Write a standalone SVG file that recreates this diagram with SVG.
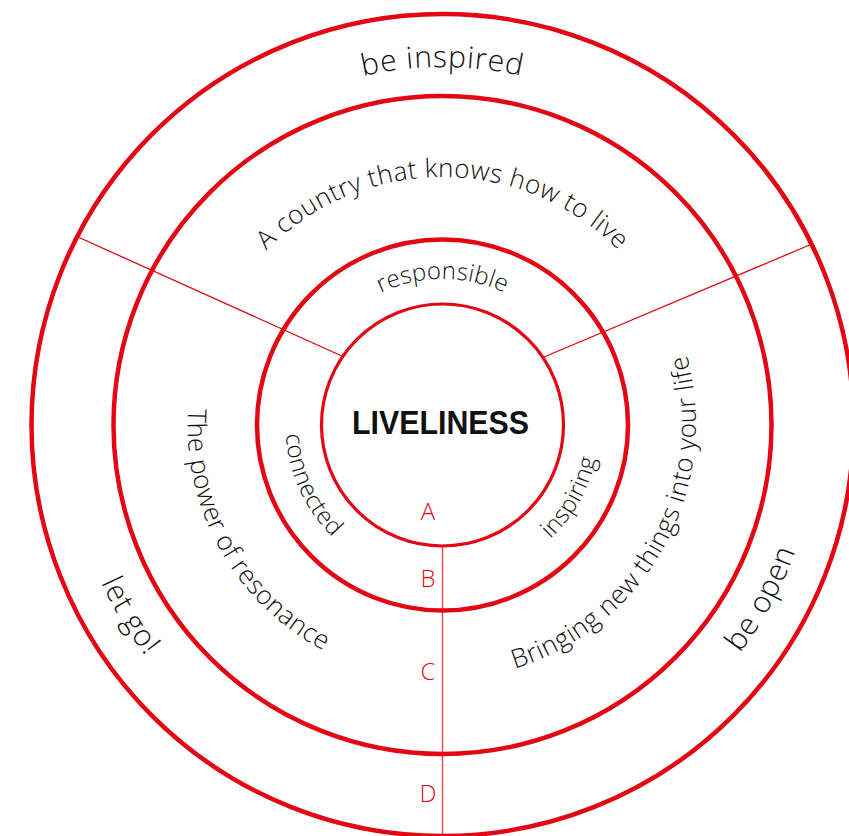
<svg xmlns="http://www.w3.org/2000/svg" xmlns:xlink="http://www.w3.org/1999/xlink" width="849" height="836" viewBox="0 0 849 836">
<style>
.ring{fill:none;stroke:#e30613;stroke-width:4.5}
.ring-in{fill:none;stroke:#e30613;stroke-width:3.2}
.div{fill:none;stroke:#e30613;stroke-width:1.3}
.axis{fill:none;stroke:#e30613;stroke-width:1.4;stroke-opacity:0.75}
.t{font-family:"Open Sans","Liberation Sans",sans-serif;font-weight:300;fill:#111;text-anchor:middle}
.t1{font-size:30px;letter-spacing:0.8px}
.t2{font-size:26px;letter-spacing:0.45px}
.t3{font-size:24px;letter-spacing:0.2px}
.lbl{font-family:"Open Sans","Liberation Sans",Arial,sans-serif;font-weight:300;font-size:24px;fill:#e30613;text-anchor:middle}
.core{font-family:"Liberation Sans",Arial,sans-serif;font-size:33px;font-weight:bold;fill:#111;text-anchor:middle}
</style>
<defs>
<path id="pInspired" d="M 84.5 425 A 358 358 0 0 1 800.5 425"/>
<path id="pCountry" d="M 194.5 425 A 248 248 0 0 1 690.5 425"/>
<path id="pResp" d="M 296.5 425 A 146 146 0 0 1 588.5 425"/>
<path id="pConn" d="M 377.4 282.1 A 157 157 0 0 0 507.6 567.9"/>
<path id="pInsp" d="M 365.2 561.7 A 157 157 0 0 0 519.8 288.3"/>
<path id="pPower" d="M 317.7 202.6 A 255 255 0 0 0 567.3 647.4"/>
<path id="pBring" d="M 319.1 650.4 A 257 257 0 0 0 565.9 199.6"/>
<path id="pLetgo" d="M 246.1 103.2 A 377 377 0 0 0 638.9 746.8"/>
<path id="pOpen" d="M 262.6 756.3 A 377 377 0 0 0 622.4 93.7"/>
</defs>
<rect width="849" height="836" fill="#ffffff"/>
<g id="rings">
<circle id="ring-D" class="ring" cx="442.5" cy="425" r="411"/>
<circle id="ring-C" class="ring" cx="442.5" cy="425" r="329"/>
<circle id="ring-B" class="ring" cx="442.5" cy="425" r="185.5"/>
<circle id="ring-A" class="ring-in" cx="442.5" cy="425" r="121"/>
</g>
<g id="connectors">
<line class="div" x1="344" y1="357" x2="78" y2="237"/>
<line class="div" x1="544" y1="357" x2="812" y2="244"/>
<line class="axis" x1="442.5" y1="546" x2="442.5" y2="836"/>
</g>
<g id="core">
<text class="core" x="440.5" y="434" textLength="177" lengthAdjust="spacingAndGlyphs">LIVELINESS</text>
</g>
<g id="inner-ring">
<text class="t t3"><textPath xlink:href="#pResp" href="#pResp" startOffset="50%">responsible</textPath></text>
<text class="t t3"><textPath xlink:href="#pConn" href="#pConn" startOffset="50%">connected</textPath></text>
<text class="t t3"><textPath xlink:href="#pInsp" href="#pInsp" startOffset="50%">inspiring</textPath></text>
</g>
<g id="middle-ring">
<text class="t t2"><textPath xlink:href="#pCountry" href="#pCountry" startOffset="50%">A country that knows how to live</textPath></text>
<text class="t t2"><textPath xlink:href="#pPower" href="#pPower" startOffset="50%">The power of resonance</textPath></text>
<text class="t t2"><textPath xlink:href="#pBring" href="#pBring" startOffset="50%">Bringing new things into your life</textPath></text>
</g>
<g id="outer-ring">
<text class="t t1"><textPath xlink:href="#pInspired" href="#pInspired" startOffset="50%">be inspired</textPath></text>
<text class="t t1"><textPath xlink:href="#pLetgo" href="#pLetgo" startOffset="50%">let go!</textPath></text>
<text class="t t1"><textPath xlink:href="#pOpen" href="#pOpen" startOffset="50%">be open</textPath></text>
</g>
<g id="levels">
<text class="lbl" x="428" y="520">A</text>
<text class="lbl" x="428" y="587">B</text>
<text class="lbl" x="428" y="680">C</text>
<text class="lbl" x="428" y="802">D</text>
</g>
</svg>
